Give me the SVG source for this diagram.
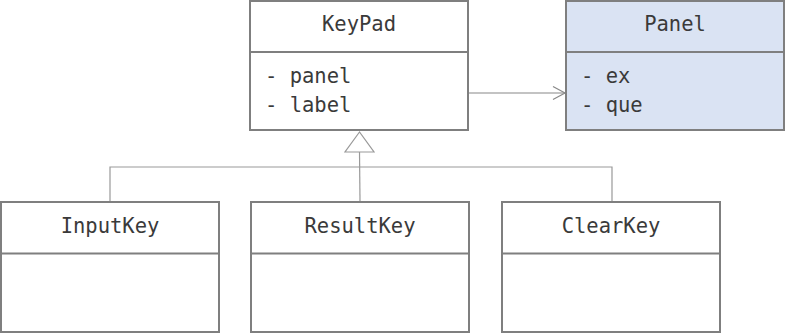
<svg xmlns="http://www.w3.org/2000/svg" width="785" height="334" viewBox="0 0 785 334">
<style>
.box{fill:#ffffff;stroke:#7f7f7f;stroke-width:2}
.blue{fill:#dae3f3}
.div{stroke:#7f7f7f;stroke-width:2}
.t{font-family:"DejaVu Sans Mono","Liberation Mono",monospace;font-size:20.5px;fill:#3a3a3a}
.c{text-anchor:middle}
.ln{fill:none;stroke:#999999;stroke-width:1.2}
</style>
<rect width="785" height="334" fill="#ffffff"/>
<g id="connectors">
<polyline class="ln" points="110,201 110,167 612,167 612,201"/>
<line class="ln" x1="359.5" y1="152" x2="360" y2="201"/>
<polygon points="359.5,132 345,152 374,152" fill="#ffffff" stroke="#999999" stroke-width="1.2"/>
<line x1="468" y1="93" x2="565" y2="93" stroke="#888888" stroke-width="1.2"/>
<polyline points="553,86.5 565,93 553,99.5" fill="none" stroke="#888888" stroke-width="1.2"/>
</g>
<g id="KeyPad">
<rect class="box" x="250" y="1" width="218" height="129"/>
<line class="div" x1="250" y1="52" x2="468" y2="52"/>
<text class="t c" x="359" y="31">KeyPad</text>
<text class="t" x="265" y="83">- panel</text>
<text class="t" x="265" y="112">- label</text>
</g>
<g id="Panel">
<rect class="box blue" x="566" y="1" width="218" height="129"/>
<line class="div" x1="566" y1="52" x2="784" y2="52"/>
<text class="t c" x="675" y="31">Panel</text>
<text class="t" x="581" y="83">- ex</text>
<text class="t" x="581" y="112">- que</text>
</g>
<g id="InputKey">
<rect class="box" x="1" y="202" width="218" height="130"/>
<line class="div" x1="1" y1="253.5" x2="219" y2="253.5"/>
<text class="t c" x="110" y="233">InputKey</text>
</g>
<g id="ResultKey">
<rect class="box" x="251" y="202" width="218" height="130"/>
<line class="div" x1="251" y1="253.5" x2="469" y2="253.5"/>
<text class="t c" x="360" y="233">ResultKey</text>
</g>
<g id="ClearKey">
<rect class="box" x="502" y="202" width="218" height="130"/>
<line class="div" x1="502" y1="253.5" x2="720" y2="253.5"/>
<text class="t c" x="611" y="233">ClearKey</text>
</g>
</svg>
